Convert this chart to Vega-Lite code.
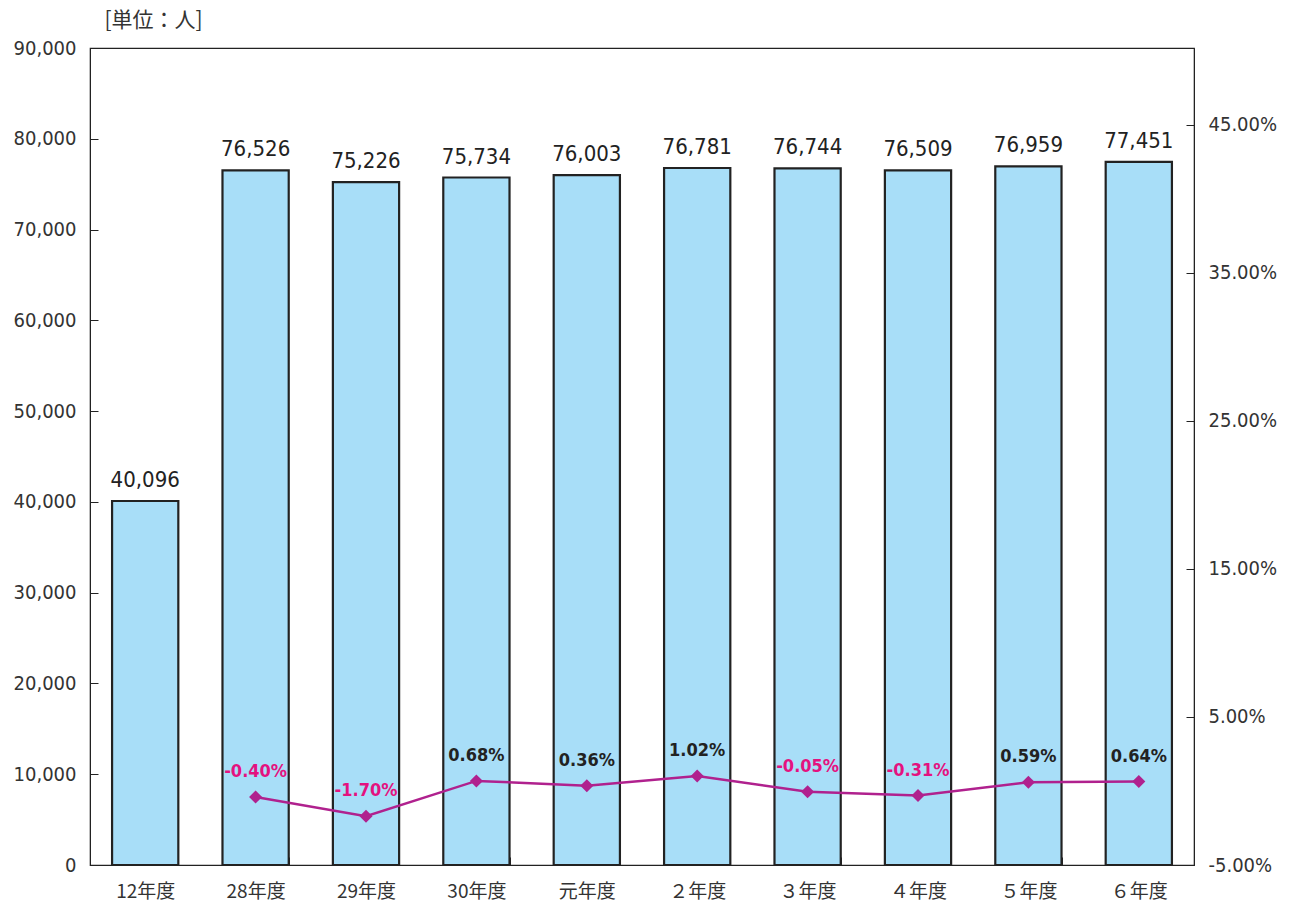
{
  "$schema": "https://vega.github.io/schema/vega-lite/v6.json",
  "autosize": {"type": "none"},
  "width": 1104,
  "height": 817,
  "padding": {"left": 90, "top": 48, "right": 96, "bottom": 39},
  "background": "white",
  "config": {
    "view": {"stroke": "#222", "strokeWidth": 1.2},
    "font": "Liberation Sans Narrow, DejaVu Sans Condensed, Noto Sans CJK JP, sans-serif",
    "axis": {"domainColor": "#222", "tickColor": "#222", "labelColor": "#333", "labelFontSize": 20, "grid": false, "labelFont": "Liberation Sans Narrow, DejaVu Sans Condensed, Noto Sans CJK JP, sans-serif"}
  },
  "data": {
    "values": [
      {"year": "12年度", "count": 40096, "pct": null},
      {"year": "28年度", "count": 76526, "pct": -0.40},
      {"year": "29年度", "count": 75226, "pct": -1.70},
      {"year": "30年度", "count": 75734, "pct": 0.68},
      {"year": "元年度", "count": 76003, "pct": 0.36},
      {"year": "２年度", "count": 76781, "pct": 1.02},
      {"year": "３年度", "count": 76744, "pct": -0.05},
      {"year": "４年度", "count": 76509, "pct": -0.31},
      {"year": "５年度", "count": 76959, "pct": 0.59},
      {"year": "６年度", "count": 77451, "pct": 0.64}
    ]
  },
  "encoding": {
    "x": {
      "field": "year", "type": "nominal", "sort": null,
      "scale": {"paddingInner": 0.4, "paddingOuter": 0.2},
      "axis": {"title": null, "labelAngle": 0, "tickBand": "extent", "tickSize": -8, "labelPadding": 25, "domain": true, "labelFont": "Noto Sans CJK JP", "labelFontSize": 19}
    }
  },
  "layer": [
    {
      "layer": [
        {
          "mark": {"type": "bar", "fill": "#A8DEF8", "stroke": "#222", "strokeWidth": 2.2},
          "encoding": {
            "y": {"field": "count", "type": "quantitative", "scale": {"domain": [0, 90000], "nice": false},
              "axis": {"title": "[単位：人]", "titleAngle": 0, "titleX": 63, "titleY": -28, "titleBaseline": "middle", "titleAlign": "center", "titleFont": "Noto Sans CJK JP", "titleFontSize": 21, "titleFontWeight": "normal", "titleColor": "#333", "values": [0,10000,20000,30000,40000,50000,60000,70000,80000,90000], "format": ",d", "tickSize": -8, "labelPadding": 22}}
          }
        },
        {
          "mark": {"type": "text", "dy": -21, "fontSize": 22, "color": "#222", "baseline": "middle"},
          "encoding": {
            "y": {"field": "count", "type": "quantitative"},
            "text": {"field": "count", "type": "quantitative", "format": ",d"}
          }
        }
      ]
    },
    {
      "transform": [
        {"filter": "datum.pct != null"},
        {"calculate": "replace(format(datum.pct, '.2f'), '\u2212', '-') + '%'", "as": "label"}
      ],
      "layer": [
        {
          "mark": {"type": "line", "color": "#B0218E", "strokeWidth": 2.5, "point": {"shape": "diamond", "size": 170, "filled": true, "color": "#B0218E"}},
          "encoding": {
            "y": {"field": "pct", "type": "quantitative", "scale": {"domain": [-5, 50.2], "nice": false, "zero": false},
              "axis": {"orient": "right", "title": null, "values": [-5, 5, 15, 25, 35, 45], "labelExpr": "replace(format(datum.value, '.2f'), '\u2212', '-') + '%'", "tickSize": -8, "labelPadding": 22}}
          }
        },
        {
          "mark": {"type": "text", "dy": -25, "fontSize": 18, "fontWeight": "bold", "baseline": "middle"},
          "encoding": {
            "y": {"field": "pct", "type": "quantitative"},
            "text": {"field": "label", "type": "nominal"},
            "color": {"condition": {"test": "datum.pct < 0", "value": "#E4127F"}, "value": "#222"}
          }
        }
      ]
    }
  ],
  "resolve": {"scale": {"y": "independent"}}
}
